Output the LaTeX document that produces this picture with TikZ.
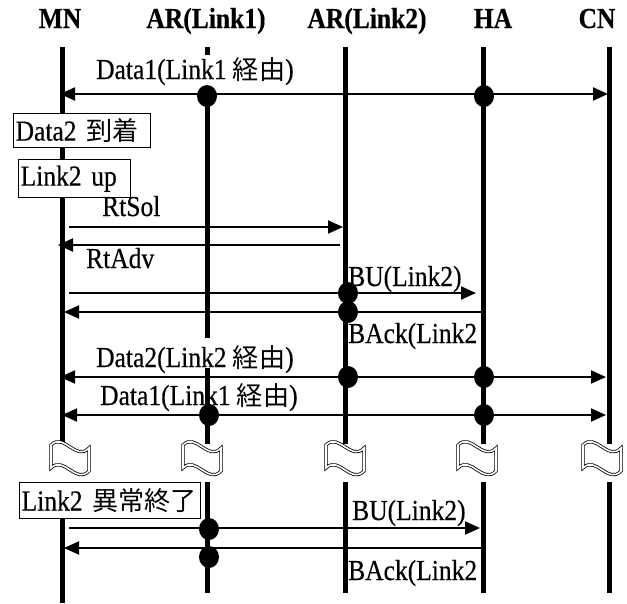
\documentclass[tikz,border=0pt]{standalone}
\usepackage{fontspec}
\setmainfont{Liberation Serif}[FakeStretch=0.88,FakeBold=0.4]
\newfontfamily\jp{Noto Sans CJK JP}[Scale=0.9]
\usetikzlibrary{arrows.meta,shapes.geometric}
\begin{document}
\begin{tikzpicture}[x=1pt,y=-1pt,
  hdr/.style={font=\fontsize{29}{29}\selectfont\bfseries,inner sep=0pt,anchor=base},
  lbl/.style={font=\fontsize{29}{29}\selectfont,inner sep=0pt,anchor=base west},
  life/.style={line width=5pt},
  msg/.style={line width=2pt},
  onetip/.style={-{Triangle[length=15pt,width=13pt]}},
  twotip/.style={{Triangle[length=15pt,width=13pt]}-{Triangle[length=15pt,width=13pt]}},
  dot/.style={ellipse,fill=black,minimum width=20pt,minimum height=22pt,inner sep=0pt},
  evbox/.style={draw,fill=white,line width=1.3pt,anchor=north west,inner xsep=2pt,inner ysep=0pt,
    font=\fontsize{29}{29}\selectfont,align=left},
  brk/.style={draw,double,line width=0.8pt,double distance=1.6pt}
]
\useasboundingbox (0,0) rectangle (627,603);
% headers
\node[hdr] (hMN) at (60,28) {MN};
\node[hdr] (hAR1) at (206,28) {AR(Link1)};
\node[hdr] (hAR2) at (367,28) {AR(Link2)};
\node[hdr] (hHA) at (493,28) {HA};
\node[hdr] (hCN) at (597,28) {CN};
% lifelines
\coordinate (MNt) at (62,47);   \coordinate (MNb) at (62,444);
\coordinate (MNt2) at (62,482); \coordinate (MNb2) at (62,603);
\coordinate (A1t) at (207,47);  \coordinate (A1s) at (207,55);
\coordinate (A1u) at (207,94);  \coordinate (A1v) at (207,338);
\coordinate (A1w) at (207,368); \coordinate (A1b) at (207,444);
\coordinate (A1t2) at (207,482); \coordinate (A1b2) at (207,593);
\coordinate (A2t) at (345,47);  \coordinate (A2b) at (345,444);
\coordinate (A2t2) at (345,482); \coordinate (A2b2) at (345,593);
\coordinate (HAt) at (483,47);  \coordinate (HAb) at (483,444);
\coordinate (HAt2) at (483,482); \coordinate (HAb2) at (483,593);
\coordinate (CNt) at (609,47);  \coordinate (CNb) at (609,444);
\coordinate (CNt2) at (609,482); \coordinate (CNb2) at (609,593);
\draw[life] (MNt) -- (MNb) (MNt2) -- (MNb2);
\draw[life] (A1t) -- (A1s) (A1u) -- (A1v) (A1w) -- (A1b) (A1t2) -- (A1b2);
\draw[life] (A2t) -- (A2b) (A2t2) -- (A2b2);
\draw[life] (HAt) -- (HAb) (HAt2) -- (HAb2);
\draw[life] (CNt) -- (CNb) (CNt2) -- (CNb2);
% break symbols
\foreach \l in {51,183,326,458,583}{
  \draw[brk] (\l,445) .. controls (\l+13,432) and (\l+25,462) .. (\l+38,448)
    -- (\l+38,471) .. controls (\l+25,485) and (\l+13,455) .. (\l,468) -- cycle;
}
% event boxes
\node[evbox,minimum height=34pt,text width=133pt] (e1) at (13,113) {Data2 {\jp 到着}};
\node[evbox,minimum height=38pt,text width=108pt] (e2) at (18,159) {Link2 up};
\node[evbox,minimum height=36pt,text width=177pt] (e3) at (19,482) {\mbox{Link2 {\jp 異常終了}}};
% Data1 (Link1)
\coordinate (m1a) at (60,94); \coordinate (m1b) at (608,94);
\draw[msg,twotip] (m1a) -- (m1b);
\node[dot] (d1) at (207,96) {};
\node[dot] (d2) at (484,96) {};
\node[lbl] (t1) at (96,79) {Data1(Link1 {\jp 経由})};
% RtSol
\coordinate (m2a) at (69,227); \coordinate (m2b) at (343,227);
\draw[msg,onetip] (m2a) -- (m2b);
\node[lbl] (t2) at (102,216) {RtSol};
% RtAdv
\coordinate (m3a) at (340,245); \coordinate (m3b) at (58,245);
\draw[msg,onetip] (m3a) -- (m3b);
\node[lbl] (t3) at (86,268) {RtAdv};
% BU
\coordinate (m4a) at (69,293); \coordinate (m4b) at (476,293);
\draw[msg,onetip] (m4a) -- (m4b);
\node[dot] (d3) at (348,293) {};
\node[lbl] (t4) at (348,286) {BU(Link2)};
% BAck
\coordinate (m5a) at (481,312); \coordinate (m5b) at (64,312);
\draw[msg,onetip] (m5a) -- (m5b);
\node[dot] (d4) at (348,312) {};
\node[lbl] (t5) at (348,343) {BAck(Link2};
% Data2 (Link2)
\coordinate (m6a) at (60,377); \coordinate (m6b) at (606,377);
\draw[msg,twotip] (m6a) -- (m6b);
\node[dot] (d5) at (348,377) {};
\node[dot] (d6) at (484,377) {};
\node[lbl] (t6) at (96,367) {Data2(Link2 {\jp 経由})};
% Data1 (Link1) again
\coordinate (m7a) at (62,415); \coordinate (m7b) at (606,415);
\draw[msg,twotip] (m7a) -- (m7b);
\node[dot] (d7) at (209,415) {};
\node[dot] (d8) at (484,415) {};
\node[lbl] (t7) at (100,405) {Data1(Link1 {\jp 経由})};
% BU after failure
\coordinate (m8a) at (69,528); \coordinate (m8b) at (480,528);
\draw[msg,onetip] (m8a) -- (m8b);
\node[dot] (d9) at (209,529) {};
\node[lbl] (t8) at (352,520) {BU(Link2)};
% BAck after failure
\coordinate (m9a) at (481,548); \coordinate (m9b) at (64,548);
\draw[msg,onetip] (m9a) -- (m9b);
\node[dot] (d10) at (209,557) {};
\node[lbl] (t9) at (348,580) {BAck(Link2};
\end{tikzpicture}
\end{document}
